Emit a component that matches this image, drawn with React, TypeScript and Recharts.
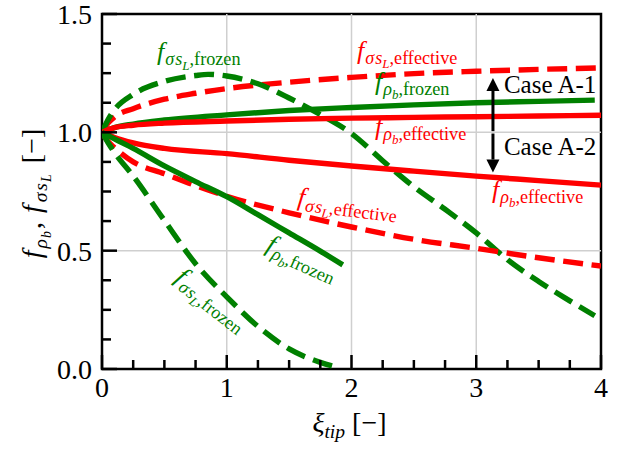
import React from 'react';
import { LineChart, Line, XAxis, YAxis, ReferenceLine, ReferenceArea, ReferenceDot } from 'recharts';

const FONT = 'Liberation Serif';
const RED = '#ff0000';
const GREEN = '#008000';

// ---------- axis ticks ----------
const xTicks = [0, 0.25, 0.5, 0.75, 1, 1.25, 1.5, 1.75, 2, 2.25, 2.5, 2.75, 3, 3.25, 3.5, 3.75, 4];
const yTicks = [0, 0.125, 0.25, 0.375, 0.5, 0.625, 0.75, 0.875, 1, 1.125, 1.25, 1.375, 1.5];
const xGrid = [1, 2, 3];
const yGrid = [0.5, 1.0];

// ---------- series (Case A-1) ----------
const sigEffA1X = [0, 0.05, 0.1, 0.25, 0.5, 0.75, 1, 1.5, 2, 2.5, 3, 3.5, 4];
const sigEffA1Y = [1.0, 1.04, 1.065, 1.1, 1.14, 1.165, 1.185, 1.212, 1.232, 1.248, 1.258, 1.266, 1.272];

const sigFrzA1X = [0, 0.05, 0.1, 0.25, 0.5, 0.75, 0.85, 1, 1.25, 1.5, 1.75, 2, 2.25, 2.5, 2.75, 3, 3.25, 3.5, 3.75, 3.95];
const sigFrzA1Y = [1.0, 1.055, 1.095, 1.16, 1.215, 1.24, 1.245, 1.238, 1.205, 1.145, 1.075, 0.995, 0.88, 0.77, 0.675, 0.575, 0.462, 0.37, 0.288, 0.225];

const rhoFrzA1X = [0, 0.1, 0.25, 0.5, 1, 1.5, 2, 2.5, 3, 3.5, 3.95];
const rhoFrzA1Y = [1.0, 1.02, 1.035, 1.052, 1.074, 1.092, 1.105, 1.116, 1.125, 1.131, 1.136];

const rhoEffA1X = [0, 0.1, 0.25, 0.5, 1, 1.5, 2, 2.5, 3, 3.5, 4];
const rhoEffA1Y = [1.0, 1.02, 1.03, 1.039, 1.048, 1.055, 1.06, 1.063, 1.066, 1.069, 1.072];

// ---------- series (Case A-2) ----------
const rhoEffA2X = [0, 0.1, 0.25, 0.5, 1, 1.5, 2, 2.5, 3, 3.5, 4];
const rhoEffA2Y = [1.0, 0.978, 0.955, 0.932, 0.91, 0.882, 0.858, 0.836, 0.815, 0.796, 0.777];

const sigEffA2X = [0, 0.05, 0.1, 0.25, 0.5, 0.75, 1, 1.5, 2, 2.5, 3, 3.5, 4];
const sigEffA2Y = [1.0, 0.96, 0.935, 0.875, 0.825, 0.775, 0.73, 0.66, 0.6, 0.548, 0.51, 0.47, 0.435];

const rhoFrzA2X = [0, 0.1, 0.25, 0.5, 0.75, 1, 1.25, 1.5, 1.75, 1.93];
const rhoFrzA2Y = [1.0, 0.972, 0.932, 0.858, 0.792, 0.728, 0.652, 0.575, 0.498, 0.44];

const sigFrzA2X = [0, 0.05, 0.1, 0.25, 0.5, 0.75, 1, 1.25, 1.5, 1.75, 1.9];
const sigFrzA2Y = [1.0, 0.955, 0.915, 0.815, 0.628, 0.445, 0.305, 0.18, 0.085, 0.028, 0.005];

// ---------- annotations ----------
const arrowX = 3.134;
const arrowUp = [1.005, 1.23];
const arrowDown = [0.995, 0.83];
const caseLabels = [
  { x: 3.222, y: 1.166, text: 'Case A-1' },
  { x: 3.222, y: 0.904, text: 'Case A-2' },
];

type Seg = { t: string; lv: number; it?: boolean; dx?: number };
const sigSegs = (tail: string): Seg[] => [
  { t: 'f', lv: 0, it: true },
  { t: 'σ', lv: 1, it: true, dx: 1 },
  { t: 's', lv: 1, it: true, dx: 1 },
  { t: 'L', lv: 2, it: true },
  { t: tail, lv: 1 },
];
const rhoSegs = (tail: string): Seg[] => [
  { t: 'f', lv: 0, it: true },
  { t: 'ρ', lv: 1, it: true, dx: 1 },
  { t: 'b', lv: 2, it: true },
  { t: tail, lv: 1 },
];

const curveLabels = [
  { x: 0.441, y: 1.305, segs: sigSegs(',frozen'), color: GREEN, rot: 0 },
  { x: 2.044, y: 1.31, segs: sigSegs(',effective'), color: RED, rot: 0 },
  { x: 2.188, y: 1.179, segs: rhoSegs(',frozen'), color: GREEN, rot: 0 },
  { x: 2.188, y: 0.989, segs: rhoSegs(',effective'), color: RED, rot: 0 },
  { x: 3.126, y: 0.722, segs: rhoSegs(',effective'), color: RED, rot: 0 },
  { x: 1.563, y: 0.693, segs: sigSegs(',effective'), color: RED, rot: 7 },
  { x: 1.307, y: 0.503, segs: rhoSegs(',frozen'), color: GREEN, rot: 24 },
  { x: 0.577, y: 0.376, segs: sigSegs(',frozen'), color: GREEN, rot: 38 },
];

const toPts = (xs: number[], ys: number[]) => xs.map((x, i) => ({ x, y: ys[i] }));

const series = [
  { name: 'sigEffA1', data: toPts(sigEffA1X, sigEffA1Y), color: RED, dashed: true },
  { name: 'sigFrzA1', data: toPts(sigFrzA1X, sigFrzA1Y), color: GREEN, dashed: true },
  { name: 'rhoFrzA1', data: toPts(rhoFrzA1X, rhoFrzA1Y), color: GREEN, dashed: false },
  { name: 'rhoEffA1', data: toPts(rhoEffA1X, rhoEffA1Y), color: RED, dashed: false },
  { name: 'rhoEffA2', data: toPts(rhoEffA2X, rhoEffA2Y), color: RED, dashed: false },
  { name: 'sigEffA2', data: toPts(sigEffA2X, sigEffA2Y), color: RED, dashed: true },
  { name: 'rhoFrzA2', data: toPts(rhoFrzA2X, rhoFrzA2Y), color: GREEN, dashed: false },
  { name: 'sigFrzA2', data: toPts(sigFrzA2X, sigFrzA2Y), color: GREEN, dashed: true },
];

const LW = 5.4;

const MathText = ({ x, y, segs, size, color, rot, anchor }: any) => {
  let prev = 0;
  const kids = segs.map((s: Seg, i: number) => {
    const shift = s.lv === 0 ? 0 : s.lv === 1 ? 0.2 * size : 0.36 * size;
    const dy = shift - prev;
    prev = shift;
    const fs = s.lv === 0 ? size : s.lv === 1 ? size * 0.7 : size * 0.5;
    return (
      <tspan key={i} dy={dy} dx={s.dx ?? 0} fontSize={fs} fontStyle={s.it ? 'italic' : 'normal'}>
        {s.t}
      </tspan>
    );
  });
  return (
    <text
      x={x}
      y={y}
      fill={color}
      fontFamily={FONT}
      textAnchor={anchor || 'start'}
      style={{ whiteSpace: 'pre' }}
      transform={rot ? `rotate(${rot} ${x} ${y})` : undefined}
    >
      {kids}
    </text>
  );
};

const XTick = (props: any) => {
  const { x, y, payload } = props;
  const v = payload.value;
  const major = Math.abs(v - Math.round(v)) < 1e-6;
  return (
    <g>
      <line x1={x} x2={x} y1={y} y2={y - (major ? 14 : 9)} stroke="#000" strokeWidth={2.5} />
      {major && (
        <text x={x} y={y + 28} textAnchor="middle" fontSize={28} fontFamily={FONT} fill="#000">
          {String(v)}
        </text>
      )}
    </g>
  );
};

const YTick = (props: any) => {
  const { x, y, payload } = props;
  const v = payload.value;
  const major = Math.abs(v * 2 - Math.round(v * 2)) < 1e-6;
  return (
    <g>
      <line x1={x} x2={x + (major ? 15 : 9)} y1={y} y2={y} stroke="#000" strokeWidth={2.5} />
      {major && (
        <text x={x - 10} y={y + 10} textAnchor="end" fontSize={28} fontFamily={FONT} fill="#000">
          {v.toFixed(1)}
        </text>
      )}
    </g>
  );
};

const XTitle = (props: any) => {
  const vb = props.viewBox || { x: 102, y: 369, width: 499, height: 30 };
  const cx = vb.x + vb.width / 2 - 2;
  const segs: Seg[] = [
    { t: 'ξ', lv: 0, it: true },
    { t: 'tip', lv: 1, it: true },
    { t: ' [−]', lv: 0 },
  ];
  return <MathText x={cx} y={vb.y + 63} segs={segs} size={28} color="#000" anchor="middle" />;
};

const YTitle = (props: any) => {
  const vb = props.viewBox || { x: 42, y: 14, width: 60, height: 355 };
  const cy = vb.y + vb.height / 2 + 2;
  const x = 41;
  const segs: Seg[] = [
    { t: 'f', lv: 0, it: true },
    { t: 'ρ', lv: 1, it: true, dx: 2 },
    { t: 'b', lv: 2, it: true, dx: 1 },
    { t: ',', lv: 0, dx: 2 },
    { t: 'f', lv: 0, it: true, dx: 9 },
    { t: 'σ', lv: 1, it: true, dx: 3 },
    { t: 's', lv: 1, it: true, dx: 2 },
    { t: 'L', lv: 2, it: true, dx: 1 },
    { t: '[−]', lv: 0, dx: 11 },
  ];
  return (
    <g transform={`rotate(-90 ${x} ${cy})`}>
      <MathText x={x} y={cy} segs={segs} size={28} color="#000" anchor="middle" />
    </g>
  );
};

const Arrow = (p: any) => {
  const { x1, y1, x2, y2 } = p;
  const dir = y2 < y1 ? -1 : 1;
  const head = 13;
  const hw = 6.5;
  return (
    <g>
      <line x1={x1} y1={y1} x2={x2} y2={y2 - dir * head} stroke="#000" strokeWidth={3} />
      <polygon points={`${x2},${y2} ${x2 - hw},${y2 - dir * head} ${x2 + hw},${y2 - dir * head}`} fill="#000" />
    </g>
  );
};

export default function App() {
  return (
    <div style={{ position: 'absolute', left: 0, top: 0, background: '#fff' }}>
      <LineChart width={624} height={449} margin={{ top: 14, right: 23, bottom: 50, left: 42 }}>
        <XAxis
          type="number"
          dataKey="x"
          domain={[0, 4]}
          ticks={xTicks}
          interval={0}
          allowDataOverflow
          height={30}
          axisLine={false}
          tickLine={false}
          tickSize={0}
          tickMargin={0}
          tick={<XTick />}
          label={<XTitle />}
        />
        <YAxis
          type="number"
          dataKey="y"
          domain={[0, 1.5]}
          ticks={yTicks}
          interval={0}
          allowDataOverflow
          width={60}
          axisLine={false}
          tickLine={false}
          tickSize={0}
          tickMargin={0}
          tick={<YTick />}
          label={<YTitle />}
        />
        {xGrid.map((g) => (
          <ReferenceLine key={'gx' + g} x={g} stroke="#cfcfcf" strokeWidth={1.5} />
        ))}
        {yGrid.map((g) => (
          <ReferenceLine key={'gy' + g} y={g} stroke="#cfcfcf" strokeWidth={1.5} />
        ))}
        {series.map((s) => (
          <Line
            key={s.name}
            data={s.data}
            dataKey="y"
            type="monotone"
            stroke={s.color}
            strokeWidth={LW}
            strokeDasharray={s.dashed ? '20 8.6' : undefined}
            dot={false}
            activeDot={false}
            isAnimationActive={false}
          />
        ))}
        <ReferenceLine
          segment={[{ x: arrowX, y: arrowUp[0] }, { x: arrowX, y: arrowUp[1] }]}
          shape={(p: any) => <Arrow {...p} />}
        />
        <ReferenceLine
          segment={[{ x: arrowX, y: arrowDown[0] }, { x: arrowX, y: arrowDown[1] }]}
          shape={(p: any) => <Arrow {...p} />}
        />
        {caseLabels.map((c) => (
          <ReferenceDot
            key={c.text}
            x={c.x}
            y={c.y}
            r={1}
            shape={(p: any) => (
              <text x={p.cx} y={p.cy} fontSize={25} fontFamily={FONT} fill="#000">
                {c.text}
              </text>
            )}
          />
        ))}
        {curveLabels.map((c, i) => (
          <ReferenceDot
            key={'cl' + i}
            x={c.x}
            y={c.y}
            r={1}
            shape={(p: any) => <MathText x={p.cx} y={p.cy} segs={c.segs} size={26} color={c.color} rot={c.rot} />}
          />
        ))}
        <ReferenceArea x1={0} x2={4} y1={0} y2={1.5} fill="none" stroke="#000" strokeWidth={2.5} />
      </LineChart>
    </div>
  );
}
